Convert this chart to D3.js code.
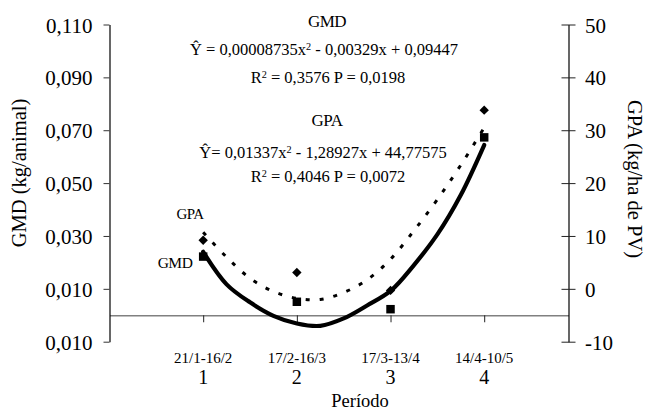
<!DOCTYPE html>
<html>
<head>
<meta charset="utf-8">
<script src="https://cdn.jsdelivr.net/npm/d3@7/dist/d3.min.js"></script>
<style>
  html, body { margin: 0; padding: 0; background: #fff; }
  svg, svg text { font-family: "Liberation Serif", "Times New Roman", serif; }
</style>
</head>
<body>
<svg id="chart" width="645" height="412" font-family="Liberation Serif"></svg>
<script>
// ---------- data ----------
const periods = [1, 2, 3, 4];
const periodDates = ["21/1-16/2", "17/2-16/3", "17/3-13/4", "14/4-10/5"];
const periodNumbers = ["1", "2", "3", "4"];

// observed means
const gmdValues = [0.0222, 0.0051, 0.0023, 0.0673];   // squares, left axis (kg/animal)
const gpaValues = [9.2, 3.1, -0.3, 33.8];             // diamonds, right axis (kg/ha de PV)

// fitted quadratic curves
const fitX = [1, 1.25, 1.5, 1.75, 2, 2.25, 2.5, 2.75, 3, 3.25, 3.5, 3.75, 4];
const gmdFit = [0.0240, 0.0117, 0.0049, -0.0002, -0.0031, -0.0040, -0.0012, 0.0037, 0.0092, 0.0190, 0.0306, 0.0455, 0.0644];
const gpaFit = [10.7, 6.0, 2.0, -0.5, -1.8, -2.0, -0.7, 1.7, 5.6, 11.0, 16.9, 23.4, 30.5];

// axes ticks
const leftTicks = [-0.01, 0.01, 0.03, 0.05, 0.07, 0.09, 0.11];
const leftTickLabels = ["0,010", "0,010", "0,030", "0,050", "0,070", "0,090", "0,110"];
const rightTicks = [-10, 0, 10, 20, 30, 40, 50];
const rightTickLabels = ["-10", "0", "10", "20", "30", "40", "50"];

// annotation text
const gmdTitle = "GMD";
const gmdEq = { pre: "\u0176 = 0,00008735x", post: " - 0,00329x + 0,09447" };
const gmdStat = { pre: "R", post: " = 0,3576 P = 0,0198" };
const gpaTitle = "GPA";
const gpaEq = { pre: "\u0176= 0,01337x", post: " - 1,28927x + 44,77575" };
const gpaStat = { pre: "R", post: " = 0,4046 P = 0,0072" };

// ---------- layout ----------
const FONT = "Liberation Serif";
const svg = d3.select("#chart");
const plotLeft = 109.5, plotRight = 568.5, plotTop = 24.5, plotBottom = 341.7;

const x = d3.scaleLinear().domain([0, 4.9]).range([plotLeft, plotRight]);
const yL = d3.scaleLinear().domain([-0.01, 0.11]).range([plotBottom, plotTop]);
const yR = d3.scaleLinear().domain([-10, 50]).range([plotBottom, plotTop]);

// zero (category) axis
const zeroY = yL(0);
const xAxis = svg.append("g")
  .attr("transform", `translate(0,${zeroY})`)
  .call(d3.axisBottom(x).tickValues(periods).tickFormat("").tickSize(7).tickSizeOuter(0));
xAxis.select(".domain").attr("stroke", "#808080").attr("stroke-width", 1.6);
xAxis.selectAll(".tick line").attr("stroke", "#222").attr("stroke-width", 1);

// left axis
const lAxis = svg.append("g")
  .attr("transform", `translate(${plotLeft},0)`)
  .call(d3.axisLeft(yL).tickValues(leftTicks).tickFormat((d, i) => leftTickLabels[i])
    .tickSize(6).tickSizeOuter(0).tickPadding(11));
lAxis.attr("font-family", FONT).attr("font-size", 21);
lAxis.select(".domain").attr("stroke", "#000").attr("stroke-width", 1.2);
lAxis.selectAll(".tick line").attr("stroke", "#333");
lAxis.selectAll(".tick text")
  .attr("font-family", FONT).attr("font-size", 21).attr("fill", "#000").attr("dy", "0.36em");

// right axis
const rAxis = svg.append("g")
  .attr("transform", `translate(${plotRight},0)`)
  .call(d3.axisRight(yR).tickValues(rightTicks).tickFormat((d, i) => rightTickLabels[i])
    .tickSize(7).tickSizeOuter(0).tickPadding(9.5));
rAxis.attr("font-family", FONT).attr("font-size", 21);
rAxis.select(".domain").attr("stroke", "#000").attr("stroke-width", 1.2);
rAxis.selectAll(".tick line").attr("x1", -7).attr("stroke", "#222");
rAxis.selectAll(".tick text")
  .attr("font-family", FONT).attr("font-size", 21).attr("fill", "#000").attr("dy", "0.36em");

// axis titles
svg.append("text")
  .attr("transform", `translate(26,173) rotate(-90)`)
  .attr("font-family", FONT)
  .attr("text-anchor", "middle").attr("font-size", 20.5).text("GMD (kg/animal)");
svg.append("text")
  .attr("transform", `translate(628,179) rotate(90)`)
  .attr("font-family", FONT)
  .attr("text-anchor", "middle").attr("font-size", 20.5).text("GPA (kg/ha de PV)");

// period labels
const pl = svg.append("g").attr("font-family", FONT);
pl.selectAll("text.date").data(periods).join("text")
  .attr("class", "date")
  .attr("x", d => x(d)).attr("y", 362.7)
  .attr("text-anchor", "middle").attr("font-size", 15)
  .text((d, i) => periodDates[i]);
pl.selectAll("text.num").data(periods).join("text")
  .attr("class", "num")
  .attr("x", d => x(d)).attr("y", 383.5)
  .attr("text-anchor", "middle").attr("font-size", 20)
  .text((d, i) => periodNumbers[i]);
svg.append("text")
  .attr("x", 360).attr("y", 406.5).attr("text-anchor", "middle")
  .attr("font-family", FONT)
  .attr("font-size", 18.5).text("Período");

// fitted curves
const gmdLine = d3.line().x((d, i) => x(fitX[i])).y(d => yL(d)).curve(d3.curveCatmullRom);
const gpaLine = d3.line().x((d, i) => x(fitX[i])).y(d => yR(d)).curve(d3.curveCatmullRom);

svg.append("path").datum(gpaFit)
  .attr("d", gpaLine).attr("fill", "none").attr("stroke", "#000")
  .attr("stroke-width", 3).attr("stroke-dasharray", "4,10");
svg.append("path").datum(gmdFit)
  .attr("d", gmdLine).attr("fill", "none").attr("stroke", "#000")
  .attr("stroke-width", 4.2).attr("stroke-linejoin", "round").attr("stroke-linecap", "round");

// markers
const sq = d3.symbol().type(d3.symbolSquare).size(72);
const dm = d3.symbol().type(d3.symbolSquare).size(44);
svg.append("g").selectAll("path").data(gmdValues).join("path")
  .attr("d", sq)
  .attr("transform", (d, i) => `translate(${x(periods[i])},${yL(d)})`)
  .attr("fill", "#000");
svg.append("g").selectAll("path").data(gpaValues).join("path")
  .attr("d", dm)
  .attr("transform", (d, i) => `translate(${x(periods[i])},${yR(d)}) rotate(45)`)
  .attr("fill", "#000");

// series labels near period 1
svg.append("text").attr("x", 190).attr("y", 219).attr("text-anchor", "middle")
  .attr("font-family", FONT)
  .attr("font-size", 15).attr("letter-spacing", "-0.5").text("GPA");
svg.append("text").attr("x", 175).attr("y", 267.5).attr("text-anchor", "middle")
  .attr("font-family", FONT)
  .attr("font-size", 15.5).attr("letter-spacing", "-0.5").text("GMD");

// equation annotations
function eqLine(cx, y, parts, size) {
  const t = svg.append("text").attr("x", cx).attr("y", y)
    .attr("font-family", FONT)
    .attr("text-anchor", "middle").attr("font-size", size);
  t.append("tspan").text(parts.pre);
  t.append("tspan").attr("font-size", size * 0.62).attr("dy", -5).text("2");
  t.append("tspan").attr("dy", 5).text(parts.post);
}
svg.append("text").attr("x", 327).attr("y", 26.7).attr("text-anchor", "middle")
  .attr("font-family", FONT)
  .attr("font-size", 17).attr("letter-spacing", "-0.5").text(gmdTitle);
eqLine(324, 55, gmdEq, 16.5);
eqLine(328, 83.3, gmdStat, 16.5);
svg.append("text").attr("x", 327).attr("y", 125.7).attr("text-anchor", "middle")
  .attr("font-family", FONT)
  .attr("font-size", 17).attr("letter-spacing", "-0.5").text(gpaTitle);
eqLine(323, 157.5, gpaEq, 16.5);
eqLine(328, 181.7, gpaStat, 16.5);
</script>
</body>
</html>
